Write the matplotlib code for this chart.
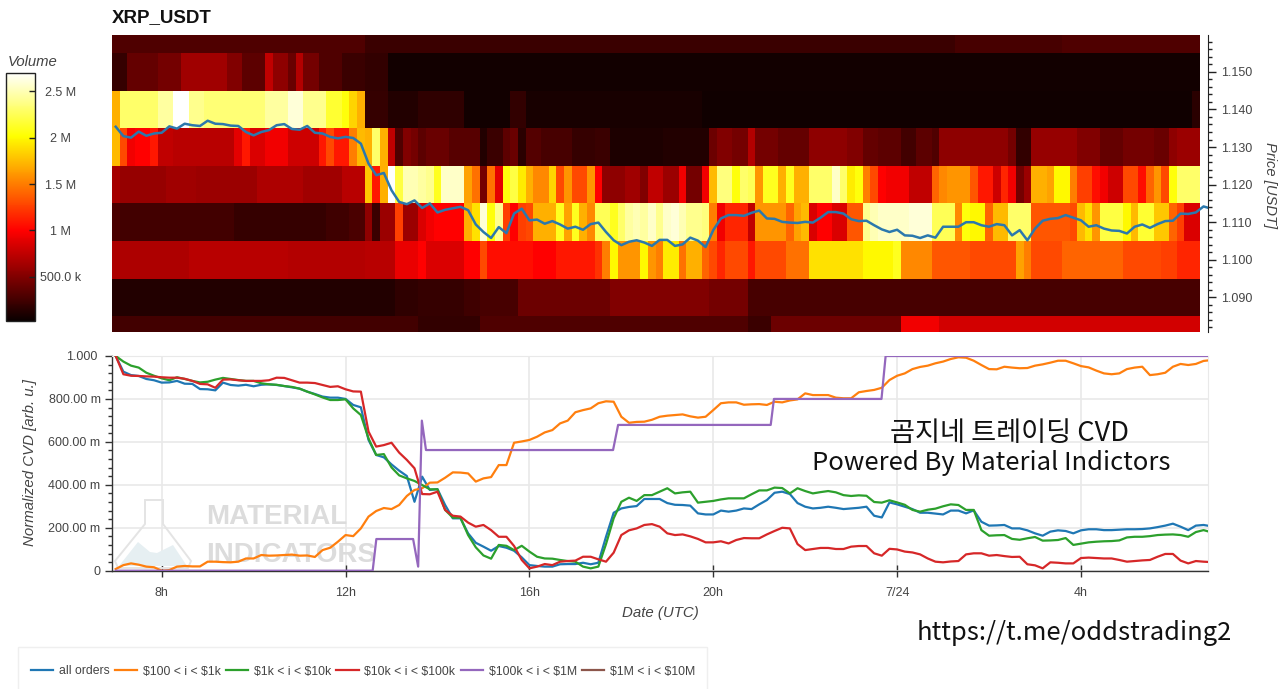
"""Order-flow dashboard for XRP_USDT: resting volume heatmap above, normalized CVD below."""

import matplotlib

matplotlib.use("Agg")
import matplotlib.pyplot as plt
import numpy as np
from matplotlib.patches import Polygon, Rectangle
from matplotlib.ticker import FixedLocator, MultipleLocator
from matplotlib.transforms import ScaledTranslation

W, H = 1280, 689

# Volume per price band in millions, run-length coded over 10 minute bins.
band_1160_counts = [33, 7, 56, 14, 14, 18]
band_1160_values = [0.30, 0.22, 0.22, 0.22, 0.27, 0.30]
band_1150_counts = [2, 4, 3, 6, 2, 3, 1, 2, 1, 1, 2, 3, 3, 3, 106]
band_1150_values = [0.20, 0.38, 0.45, 0.62, 0.50, 0.35, 0.75, 0.55, 0.40, 0.70, 0.45, 0.30, 0.22, 0.18, 0.06]
band_1140_counts = [1, 5, 2, 2, 2, 8, 3, 2, 3, 2, 1, 1, 1, 3, 4, 6, 6, 2, 23, 64, 1]
band_1140_values = [1.7, 2.3, 2.45, 2.7, 2.4, 2.33, 2.45, 2.6, 2.4, 2.15, 2.05, 1.85, 1.7,
                    0.20, 0.12, 0.17, 0.06, 0.18, 0.08, 0.05, 0.15]
band_1130_counts = [1, 1, 1, 2, 1, 2, 8, 1, 1, 2, 3, 4, 1, 1, 2, 1, 1,
                    1, 1, 1, 1, 1, 1, 1, 1, 3, 4, 1, 2, 1, 1, 1, 2, 4, 3, 2, 7, 6,
                    1, 2, 2, 1, 3, 4, 5, 2, 2, 3, 2, 2,
                    1, 1, 8, 1, 2, 6, 3, 3, 4, 2, 1, 3]
band_1130_values = [1.75, 1.3, 0.95, 1.0, 1.1, 0.75, 0.72, 0.9, 1.1, 0.85, 0.95, 0.8, 1.1, 1.3, 1.1, 1.5, 1.75,
                    1.7, 2.3, 1.7, 0.75, 0.3, 0.5, 0.45, 0.35, 0.4, 0.33, 0.12, 0.22, 0.35, 0.4, 0.15, 0.32, 0.27, 0.2, 0.22, 0.1, 0.12,
                    0.42, 0.5, 0.45, 0.7, 0.45, 0.38, 0.55, 0.5, 0.38, 0.35, 0.25, 0.35,
                    0.3, 0.55, 0.55, 0.45, 0.18, 0.58, 0.5, 0.38, 0.45, 0.4, 0.55, 0.6]
band_1120_counts = [1, 6, 4, 8, 6, 5, 3,
                    1, 1, 1, 1, 1, 2, 1, 1, 1, 3, 1, 1, 1, 1, 1, 1, 1, 1, 1, 2, 1, 1, 1, 2, 1, 1,
                    3, 2, 1, 2, 2, 1, 2, 1,
                    1, 2, 1, 1, 1, 1, 2, 1, 1, 2, 3, 1, 1, 1, 1, 1, 1, 1, 3, 3,
                    1, 1, 3, 1, 2, 1, 1, 1, 1, 1, 2, 1, 2, 1, 2, 1, 1, 2, 2, 1, 1, 1, 1, 1, 3]
band_1120_values = [0.65, 0.58, 0.62, 0.6, 0.68, 0.62, 0.72,
                    1.8, 1.1, 1.7, 2.7, 2.2, 2.5, 2.45, 2.4, 2.1, 2.55, 1.65, 1.45, 0.45, 1.45, 0.9, 2.05, 2.2, 1.95, 1.7, 1.55, 1.85, 1.3, 1.6, 1.3, 1.6, 1.0,
                    0.55, 0.62, 0.5, 0.75, 0.6, 0.95, 0.45, 0.95,
                    1.75, 2.35, 2.05, 2.3, 2.25, 1.6, 2.1, 1.7, 2.1, 1.7, 2.3, 2.55, 2.3, 1.95, 2.05, 1.5, 1.3, 1.0, 0.95, 0.75,
                    1.4, 1.55, 1.6, 1.35, 1.1, 0.8, 1.15, 0.95, 0.45, 0.6, 1.7, 1.65, 2.0, 1.5, 1.25, 1.05, 0.95, 0.8, 1.3, 1.05, 1.4, 1.6, 1.3, 2.05, 2.3]
band_1110_counts = [1, 15, 12, 3, 2,
                    1, 1, 2, 1, 2, 1, 1, 4, 1, 1, 1, 1, 1, 1, 1, 1, 1, 2, 1, 1, 1, 1, 1, 1,
                    2, 1, 1, 1, 1, 1, 1, 1, 1, 1, 1, 1, 1, 1,
                    1, 1, 3, 1, 4, 1, 1, 1, 1, 2, 2, 2, 1, 1, 4, 3,
                    3, 1, 1, 2, 1, 2, 3, 5, 1, 1, 1, 1, 3, 1, 1, 2, 2, 1, 1, 2]
band_1110_values = [0.28, 0.25, 0.2, 0.24, 0.28,
                    0.55, 0.22, 0.6, 1.25, 0.6, 0.85, 0.95, 1.0, 1.7, 1.9, 2.6, 2.05, 2.4, 1.25, 1.0, 1.25, 1.3, 1.7, 1.7, 2.1, 1.65, 2.1, 1.7, 1.55,
                    2.25, 2.1, 2.3, 2.45, 2.5, 2.45, 2.55, 2.4, 2.55, 2.6, 2.5, 2.4, 2.4, 2.35,
                    1.5, 0.95, 1.15, 0.75, 1.6, 1.4, 1.65, 1.75, 0.85, 1.0, 0.85, 1.35, 2.4, 2.5, 2.55, 2.6,
                    2.25, 1.55, 2.05, 2.0, 1.4, 1.75, 2.3, 1.35, 1.3, 1.75, 1.9, 1.6, 2.2, 2.0, 1.75, 2.15, 1.8, 1.4, 1.25, 0.85]
band_1100_counts = [10, 13, 10,
                    4, 3, 1, 2, 3, 2, 1, 6, 3, 5, 1, 1, 1, 3, 1,
                    1, 1, 2, 1, 2, 1,
                    1, 1, 3, 1, 4, 3, 7, 4, 1, 4,
                    5, 5, 1, 1, 1, 4, 5, 3, 5, 2, 3]
band_1100_values = [0.68, 0.72, 0.70,
                    0.72, 0.92, 1.0, 0.85, 0.85, 1.0, 1.3, 1.05, 1.0, 1.1, 1.2, 1.5, 2.0, 1.6, 2.0,
                    1.6, 1.5, 1.95, 1.45, 1.7, 1.4,
                    1.3, 1.15, 1.3, 1.1, 1.3, 1.45, 1.9, 2.0, 2.1, 1.55,
                    1.35, 1.3, 1.3, 1.65, 1.5, 1.3, 1.4, 1.4, 1.3, 1.25, 1.15]
band_1090_counts = [37, 3, 6, 2, 5, 12, 13, 5, 59]
band_1090_values = [0.12, 0.17, 0.20, 0.24, 0.27, 0.42, 0.50, 0.45, 0.27]
band_1080_counts = [40, 8, 35, 3, 17, 5, 34]
band_1080_values = [0.25, 0.18, 0.30, 0.22, 0.42, 0.95, 0.82]

price_edges = [1.0808, 1.085, 1.095, 1.105, 1.115, 1.125, 1.135, 1.145, 1.155, 1.1598]

# Last trade price and CVD traces, one sample every 10 minutes from 07:00.
price = [1.1354, 1.1329, 1.1325, 1.1341, 1.1330, 1.1336, 1.1338, 1.1355, 1.1349, 1.1362, 1.1358, 1.1356,
         1.1370, 1.1362, 1.1361, 1.1357, 1.1356, 1.1340, 1.1331, 1.1340, 1.1345, 1.1358, 1.1361, 1.1348,
         1.1346, 1.1356, 1.1338, 1.1336, 1.1327, 1.1323, 1.1327, 1.1324, 1.1309, 1.1256, 1.1225, 1.1231,
         1.1185, 1.1154, 1.1148, 1.1158, 1.1138, 1.1150, 1.1126, 1.1133, 1.1137, 1.1141, 1.1132, 1.1094,
         1.1074, 1.1058, 1.1087, 1.1071, 1.1123, 1.1136, 1.1105, 1.1107, 1.1096, 1.1103, 1.1094, 1.1083,
         1.1088, 1.1080, 1.1095, 1.1099, 1.1074, 1.1052, 1.1039, 1.1048, 1.1052, 1.1046, 1.1037, 1.1053,
         1.1053, 1.1037, 1.1041, 1.1059, 1.1051, 1.1034, 1.1079, 1.1110, 1.1119, 1.1119, 1.1117, 1.1125,
         1.1131, 1.1110, 1.1109, 1.1101, 1.1099, 1.1098, 1.1101, 1.1099, 1.1112, 1.1127, 1.1127, 1.1123,
         1.1108, 1.1103, 1.1104, 1.1092, 1.1081, 1.1074, 1.1080, 1.1065, 1.1064, 1.1058, 1.1065,
         1.1059, 1.1088, 1.1088, 1.1088, 1.1100, 1.1100, 1.1092, 1.1088, 1.1095, 1.1092, 1.1065, 1.1079,
         1.1052, 1.1083, 1.1104, 1.1109, 1.1111, 1.1119, 1.1112, 1.1105, 1.1088, 1.1092, 1.1083, 1.1078,
         1.1077, 1.1070, 1.1088, 1.1094, 1.1085, 1.1095, 1.1103, 1.1104, 1.1123, 1.1122, 1.1126, 1.1142, 1.1136]

cvd_all = [1.000, .927, .911, .907, .893, .887, .876, .877, .884, .871, .870, .846, .845, .840, .876, .865,
           .862, .866, .859, .866, .868, .865, .860, .854, .848, .834, .823, .811, .806, .806, .800,
           .772, .761, .609, .539, .528, .495, .466, .441, .321, .438, .376, .380, .306, .244, .244, .174,
           .130, .112, .093, .115, .107, .093, .062, .026, .022, .019, .019, .030, .031, .031, .037, .030,
           .037, .158, .270, .290,
           .297, .301, .334, .334, .334, .315, .307, .306, .303, .267, .262, .262, .280, .275, .280, .290,
           .287, .309, .329, .363, .368, .357, .315, .298, .290, .293, .298, .293, .287, .290,
           .293, .298, .256, .248, .318, .309, .298, .287, .270, .270, .266, .262, .280, .280, .267, .281,
           .228, .210, .211, .213, .197, .197, .188, .174, .163, .182, .188, .185, .174, .188, .193, .193,
           .189, .189, .191, .193, .193, .194, .197, .203, .210, .219, .205, .189, .210, .213, .207]
cvd_100_1k = [.008, .026, .034, .028, .019, .016, .000, .003, .019, .022, .020, .020, .042, .042, .040, .039,
              .042, .057, .057, .073, .070, .071, .073, .075, .070, .071, .064, .096, .107, .135, .166, .161,
              .197, .252, .278, .292, .287, .306, .348, .376, .384, .410,
              .411, .433, .458, .457, .453, .415, .430, .436, .492, .492, .596, .602, .609, .624, .644, .655,
              .686, .699, .738, .748, .756, .780, .789, .787,
              .717, .689, .693, .694, .703, .717, .722, .725, .728, .719, .713, .717, .748, .780, .784, .784,
              .773, .775, .776, .772, .787, .784, .793, .798, .826, .818, .818, .818, .806, .803, .803,
              .831, .837, .842, .852, .888, .908, .919, .939, .949, .955, .966, .974, .986, .994, .992, .978,
              .958, .939, .938, .950, .946, .943, .944, .955, .961, .969, .978, .978, .966, .953, .947, .932,
              .919, .915, .919, .939, .946, .950, .911, .915, .922, .950, .963, .958, .963, .977, .981]
cvd_1k_10k = [1.000, .974, .955, .946, .922, .908, .896, .887, .901, .893, .884, .877, .880, .890, .898, .893,
              .888, .884, .884, .873, .868, .866, .860, .856, .848, .834, .821, .807, .795, .795, .798,
              .756, .725, .616, .539, .543, .481, .444, .430, .418, .399, .379, .379, .283, .247, .247, .166,
              .109, .071, .056, .120, .116, .096, .116, .089, .065, .057, .056, .050, .045, .042, .019, .011,
              .019, .124, .244, .321,
              .340, .325, .352, .352, .368, .384, .360, .365, .368, .317, .321, .325, .332, .337, .337, .337,
              .356, .374, .374, .387, .385, .360, .384, .371, .360, .366, .371, .365, .352, .348,
              .351, .349, .320, .317, .328, .318, .307, .283, .275, .284, .289, .300, .309, .306, .283, .283,
              .189, .163, .165, .166, .148, .144, .151, .157, .140, .141, .143, .152, .120, .126, .132, .135,
              .137, .138, .141, .155, .158, .158, .161, .166, .168, .169, .166, .158, .180, .189, .179]
cvd_10k_100k = [1.000, .915, .908, .907, .905, .904, .901, .899, .899, .894, .884, .870, .868, .852, .890, .891,
                .887, .884, .884, .884, .887, .899, .898, .887, .876, .876, .874, .865, .856, .859, .845,
                .835, .834, .648, .578, .585, .596, .550, .516, .477, .357, .356, .368, .283, .256, .252, .224,
                .205, .213, .189, .158, .158, .115, .050, .011, .019, .031, .026, .042, .045, .047, .065, .065,
                .053, .042, .084, .166,
                .188, .197, .213, .217, .205, .174, .166, .169, .160, .148, .132, .132, .137, .127, .143, .152,
                .151, .151, .169, .185, .200, .197, .124, .096, .101, .106, .106, .101, .101, .112,
                .115, .115, .081, .070, .102, .099, .089, .085, .076, .057, .042, .039, .043, .045, .076, .081,
                .081, .070, .073, .068, .064, .065, .030, .025, .011, .039, .037, .034, .034, .059, .061, .059,
                .057, .057, .050, .042, .045, .048, .050, .065, .078, .078, .047, .034, .045, .042, .040]

# The $100k-$1M trace only moves on a handful of large prints.
cvd_100k_1m_hours = [7.0, 12.59, 12.67, 13.47, 13.58, 13.66, 13.75, 17.82, 17.93, 21.25, 21.32, 23.66, 23.75, 30.83]
cvd_100k_1m = [0, 0, .1475, .1475, .019, .699, .562, .562, .679, .679, .80, .80, 1.0, 1.0]

vol_ticks = [0.5, 1.0, 1.5, 2.0, 2.5]
vol_labels = ["500.0 k", "1 M", "1.5 M", "2 M", "2.5 M"]
price_ticks = [1.09, 1.10, 1.11, 1.12, 1.13, 1.14, 1.15]
cvd_ticks = [0, 0.2, 0.4, 0.6, 0.8, 1.0]
cvd_labels = ["0", "200.00 m", "400.00 m", "600.00 m", "800.00 m", "1.000"]
hour_ticks = [8, 12, 16, 20, 24, 28]
hour_labels = ["8h", "12h", "16h", "20h", "7/24", "4h"]

series_labels = ["all orders", r"\$100 < i < \$1k", r"\$1k < i < \$10k",
                 r"\$10k < i < \$100k", r"\$100k < i < \$1M", r"\$1M < i < \$10M"]
series_colors = ["#1f77b4", "#ff7f0e", "#2ca02c", "#d62728", "#9467bd", "#8c564b"]

TEXT = "#444444"
plt.rcParams["font.family"] = ["Liberation Sans", "DejaVu Sans"]
plt.rcParams["font.size"] = 9


def box(left, top, right, bottom):
    """Axes rectangle from pixel edges measured from the top left."""
    return [left / W, 1 - bottom / H, (right - left) / W, (bottom - top) / H]


def fx(x):
    return x / W


def fy(y):
    return 1 - y / H


fig = plt.figure(figsize=(W / 100, H / 100), dpi=100, facecolor="white")

# --- heatmap panel ---
ax_top = fig.add_axes(box(112, 35, 1207.7, 332))
rows = [
    (band_1080_counts, band_1080_values),
    (band_1090_counts, band_1090_values),
    (band_1100_counts, band_1100_values),
    (band_1110_counts, band_1110_values),
    (band_1120_counts, band_1120_values),
    (band_1130_counts, band_1130_values),
    (band_1140_counts, band_1140_values),
    (band_1150_counts, band_1150_values),
    (band_1160_counts, band_1160_values),
]
heat = np.array([np.repeat(v, c) for c, v in rows])
time_edges = 6.917 + np.arange(heat.shape[1] + 1) / 6
mesh = ax_top.pcolormesh(time_edges, price_edges, heat, cmap="hot", vmin=0.022, vmax=2.705,
                         shading="flat", rasterized=True)
line_hours = 7 + np.arange(len(price)) / 6
ax_top.plot(line_hours, price, color="#2b78ad", lw=1.8)

ax_top.set_xlim(6.919, 30.757)
ax_top.set_ylim(1.0808, 1.1598)
for side in ("top", "left", "bottom"):
    ax_top.spines[side].set_visible(False)
ax_top.spines["right"].set_color("#222222")
ax_top.set_xticks([])
ax_top.yaxis.tick_right()
ax_top.yaxis.set_major_locator(FixedLocator(price_ticks))
ax_top.yaxis.set_minor_locator(MultipleLocator(0.002))
ax_top.set_yticklabels([f"{p:.3f}" for p in price_ticks])
ax_top.tick_params(axis="y", which="major", length=5.5, width=1, color="#222222", labelcolor=TEXT, pad=4.3)
ax_top.tick_params(axis="y", which="minor", length=3, width=1, color="#222222")

fig.text(fx(112), fy(18), "XRP_USDT", fontsize=13.5, fontweight="bold", color="#111111", ha="left", va="center")
fig.text(fx(1270), fy(185), "Price [USDT]", fontsize=10.6, style="italic", color=TEXT,
         rotation=270, ha="center", va="center")

# --- colour bar ---
cax = fig.add_axes(box(6, 72.5, 35, 321))
cbar = fig.colorbar(mesh, cax=cax)
cbar.set_ticks(vol_ticks)
cbar.set_ticklabels(vol_labels)
cbar.outline.set_edgecolor("#222222")
cbar.outline.set_linewidth(1)
cax.tick_params(axis="y", direction="in", length=4.5, width=1, color="#222222", labelcolor=TEXT, pad=18.4)
for label in cax.get_yticklabels():
    label.set_ha("center")
fig.text(fx(7.5), fy(62), "Volume", fontsize=10.7, style="italic", color=TEXT, ha="left", va="center")

# --- CVD panel ---
ax = fig.add_axes(box(112, 356, 1207.7, 570.7))
ax.set_xlim(6.919, 30.757)
ax.set_ylim(0, 1.0)
ax.grid(True, color="#e9e9e9", lw=1.2)
ax.set_axisbelow(True)

ax.text(fx(206), fy(517), "MATERIAL", transform=fig.transFigure, fontweight="bold", fontsize=20,
        color="#dcdcdc", ha="left", va="center", zorder=1)
ax.text(fx(206), fy(555), "INDICATORS", transform=fig.transFigure, fontweight="bold", fontsize=20,
        color="#dcdcdc", ha="left", va="center", zorder=1)

# flask logo behind the traces, in figure fractions
flask_outline = [(145, 500), (163, 500), (163, 524), (191, 561), (188, 568), (118, 568), (115, 561), (145, 524)]
hills = [(119, 566), (138, 542), (150, 552), (157, 553), (173, 545), (187, 566)]
for points, face, edge in ((flask_outline, "none", "#e4e4e4"), (hills, "#e6eff2", "none")):
    ax.add_patch(Polygon([(fx(a), fy(b)) for a, b in points], closed=True, transform=fig.transFigure,
                         facecolor=face, edgecolor=edge, lw=1.4, zorder=1, clip_on=False))

traces = [cvd_all, cvd_100_1k, cvd_1k_10k, cvd_10k_100k]
handles = []
for values, color, label in zip(traces, series_colors, series_labels):
    handles.extend(ax.plot(line_hours, values, color=color, lw=1.6, label=label, zorder=3))
handles.extend(ax.plot(cvd_100k_1m_hours, cvd_100k_1m, color=series_colors[4], lw=1.6,
                       label=series_labels[4], zorder=3))
# no orders in the top bucket over this window, so the trace stays empty
handles.extend(ax.plot([], [], color=series_colors[5], lw=1.6, label=series_labels[5]))

for side in ("top", "right"):
    ax.spines[side].set_color("#e9e9e9")
for side in ("left", "bottom"):
    ax.spines[side].set_color("#333333")
    ax.spines[side].set_linewidth(1)
ax.yaxis.set_major_locator(FixedLocator(cvd_ticks))
ax.yaxis.set_minor_locator(MultipleLocator(0.04))
ax.set_yticklabels(cvd_labels)
ax.xaxis.set_major_locator(FixedLocator(hour_ticks))
ax.set_xticklabels(hour_labels)
ax.tick_params(axis="y", which="major", length=5.2, width=1, color="#333333", labelcolor=TEXT, pad=3)
ax.tick_params(axis="y", which="minor", length=3, width=1, color="#333333")
ax.tick_params(axis="x", which="major", direction="inout", length=8, width=1, color="#333333",
               labelcolor=TEXT, pad=7.5)
top_label = ax.get_yticklabels()[-1]
top_label.set_transform(top_label.get_transform() + ScaledTranslation(-3.5 / 100, 0, fig.dpi_scale_trans))

fig.text(fx(30), fy(463), "Normalized CVD [arb. u.]", fontsize=10.8, style="italic", color=TEXT,
         rotation=90, ha="center", va="center")
fig.text(fx(660), fy(613.5), "Date (UTC)", fontsize=10.8, style="italic", color=TEXT, ha="center", va="center")

# --- legend strip along the bottom edge ---
fig.add_artist(Rectangle((fx(18), fy(700)), (707 - 18) / W, (700 - 647) / H, transform=fig.transFigure,
                         facecolor="white", edgecolor="#efefef", lw=1))
leg = fig.legend(handles=handles, loc="center left", bbox_to_anchor=(fx(31), fy(671.5)), ncol=6, frameon=False,
                 fontsize=8.85, handlelength=1.8, handletextpad=0.48, columnspacing=0.42, borderpad=0, borderaxespad=0)
for text in leg.get_texts():
    text.set_color(TEXT)

# --- channel captions ---
caption_fonts = ["Noto Sans CJK KR", "DejaVu Sans"]
fig.text(fx(1009), fy(433.5), "곰지네 트레이딩 CVD", family=caption_fonts, fontsize=19.6, fontweight="medium",
         color="#111111", ha="center", va="center")
fig.text(fx(991.5), fy(463), "Powered By Material Indictors", family=caption_fonts, fontsize=18.4, fontweight="medium",
         color="#111111", ha="center", va="center")
fig.text(fx(1074), fy(633.5), "https://t.me/oddstrading2", family=caption_fonts, fontsize=18.4, fontweight="medium",
         color="#111111", ha="center", va="center")

fig.savefig("out.png", dpi=100)
plt.close(fig)
